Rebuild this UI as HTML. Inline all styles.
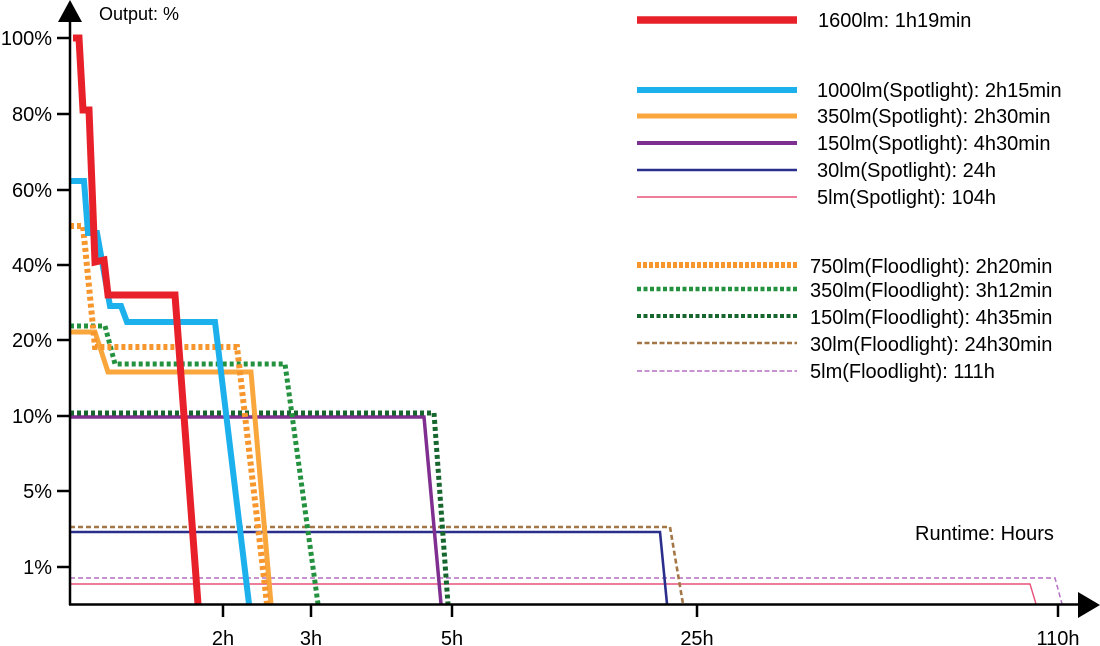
<!DOCTYPE html>
<html><head><meta charset="utf-8"><style>
html,body{margin:0;padding:0;background:#fff;}
svg{display:block;font-family:"Liberation Sans",Arial,sans-serif;}
</style></head><body>
<svg width="1100" height="646" viewBox="0 0 1100 646">
<g fill="none" stroke-linejoin="miter">
<polyline points="70,578 1055,578 1062,604" stroke="#b56fc4" stroke-width="1.5" stroke-dasharray="5,3"/>
<polyline points="70,584 1030,584 1036,604" stroke="#e8507a" stroke-width="1.4"/>
<polyline points="70,527 670,527 683,604" stroke="#a47545" stroke-width="2.6" stroke-dasharray="5,3"/>
<polyline points="70,532 660,532 667,604" stroke="#2b2f8c" stroke-width="2.6"/>
<polyline points="70,417 424,417 441,604" stroke="#7f2f8f" stroke-width="3.5"/>
<polyline points="70,413 434,413 448,604" stroke="#17662e" stroke-width="5" stroke-dasharray="4,3"/>
<polyline points="70,326 105,326 115,364 285,364 318,604" stroke="#24913f" stroke-width="5" stroke-dasharray="4,3"/>
<polyline points="70,332 95,332 108,372 251,372 271,604" stroke="#f9a73c" stroke-width="5"/>
<polyline points="70,226 83,226 95,347 237,347 267,604" stroke="#f7962c" stroke-width="6" stroke-dasharray="4,3"/>
<polyline points="71,181 84,181 88,233 97,233 110,306 121,306 127,322 215,322 249,604" stroke="#1cb0ec" stroke-width="6"/>
<polyline points="73,38 79,38 83,110 89,110 95,262 104,260 108,295 175,295 198,604" stroke="#e8202a" stroke-width="7"/>
</g>
<g stroke="#000" stroke-width="2.5" fill="none">
<line x1="70" y1="20" x2="70" y2="605"/>
<line x1="69" y1="604.5" x2="1082" y2="604.5"/>
<line x1="57" y1="38" x2="70" y2="38"/>
<line x1="57" y1="114" x2="70" y2="114"/>
<line x1="57" y1="190" x2="70" y2="190"/>
<line x1="57" y1="265" x2="70" y2="265"/>
<line x1="57" y1="340" x2="70" y2="340"/>
<line x1="57" y1="416" x2="70" y2="416"/>
<line x1="57" y1="491" x2="70" y2="491"/>
<line x1="57" y1="567" x2="70" y2="567"/>
<line x1="223" y1="604" x2="223" y2="617"/>
<line x1="311" y1="604" x2="311" y2="617"/>
<line x1="452" y1="604" x2="452" y2="617"/>
<line x1="697" y1="604" x2="697" y2="617"/>
<line x1="1058" y1="604" x2="1058" y2="617"/>
</g>
<polygon points="70,0 58,22 82,22" fill="#000"/>
<polygon points="1100,605 1078,592 1078,618" fill="#000"/>
<g font-size="20" fill="#000">
<text x="99" y="20" font-size="18">Output: %</text>
<text x="52" y="45" text-anchor="end">100%</text>
<text x="52" y="121" text-anchor="end">80%</text>
<text x="52" y="197" text-anchor="end">60%</text>
<text x="52" y="272" text-anchor="end">40%</text>
<text x="52" y="347" text-anchor="end">20%</text>
<text x="52" y="423" text-anchor="end">10%</text>
<text x="52" y="498" text-anchor="end">5%</text>
<text x="52" y="574" text-anchor="end">1%</text>
<text x="223" y="645" text-anchor="middle">2h</text>
<text x="311" y="645" text-anchor="middle">3h</text>
<text x="452" y="645" text-anchor="middle">5h</text>
<text x="697" y="645" text-anchor="middle">25h</text>
<text x="1058" y="645" text-anchor="middle">110h</text>
<text x="915" y="540">Runtime: Hours</text>
</g>
<g fill="none">
<line x1="637" y1="20" x2="797" y2="20" stroke="#e8202a" stroke-width="7.5"/>
<line x1="637" y1="90" x2="797" y2="90" stroke="#1cb0ec" stroke-width="6"/>
<line x1="637" y1="116" x2="797" y2="116" stroke="#f9a73c" stroke-width="5"/>
<line x1="637" y1="143" x2="797" y2="143" stroke="#7f2f8f" stroke-width="4"/>
<line x1="637" y1="170" x2="797" y2="170" stroke="#2b2f8c" stroke-width="2.5"/>
<line x1="637" y1="197" x2="797" y2="197" stroke="#e8507a" stroke-width="1.4"/>
<line x1="637" y1="265" x2="797" y2="265" stroke="#f7962c" stroke-width="6" stroke-dasharray="4,2"/>
<line x1="637" y1="289" x2="797" y2="289" stroke="#24913f" stroke-width="4.5" stroke-dasharray="4,2.5"/>
<line x1="637" y1="316" x2="797" y2="316" stroke="#17662e" stroke-width="4" stroke-dasharray="4,2.5"/>
<line x1="637" y1="343" x2="797" y2="343" stroke="#a47545" stroke-width="2.4" stroke-dasharray="5,2.5"/>
<line x1="637" y1="371" x2="797" y2="371" stroke="#b56fc4" stroke-width="1.6" stroke-dasharray="5,2.5"/>
</g>
<g font-size="20" fill="#000">
<text x="818" y="27">1600lm: 1h19min</text>
<text x="817" y="97">1000lm(Spotlight): 2h15min</text>
<text x="817" y="123">350lm(Spotlight): 2h30min</text>
<text x="817" y="150">150lm(Spotlight): 4h30min</text>
<text x="817" y="177">30lm(Spotlight): 24h</text>
<text x="817" y="204">5lm(Spotlight): 104h</text>
<text x="810" y="273">750lm(Floodlight): 2h20min</text>
<text x="810" y="297">350lm(Floodlight): 3h12min</text>
<text x="810" y="324">150lm(Floodlight): 4h35min</text>
<text x="810" y="351">30lm(Floodlight): 24h30min</text>
<text x="810" y="378">5lm(Floodlight): 111h</text>
</g>
</svg>
</body></html>
